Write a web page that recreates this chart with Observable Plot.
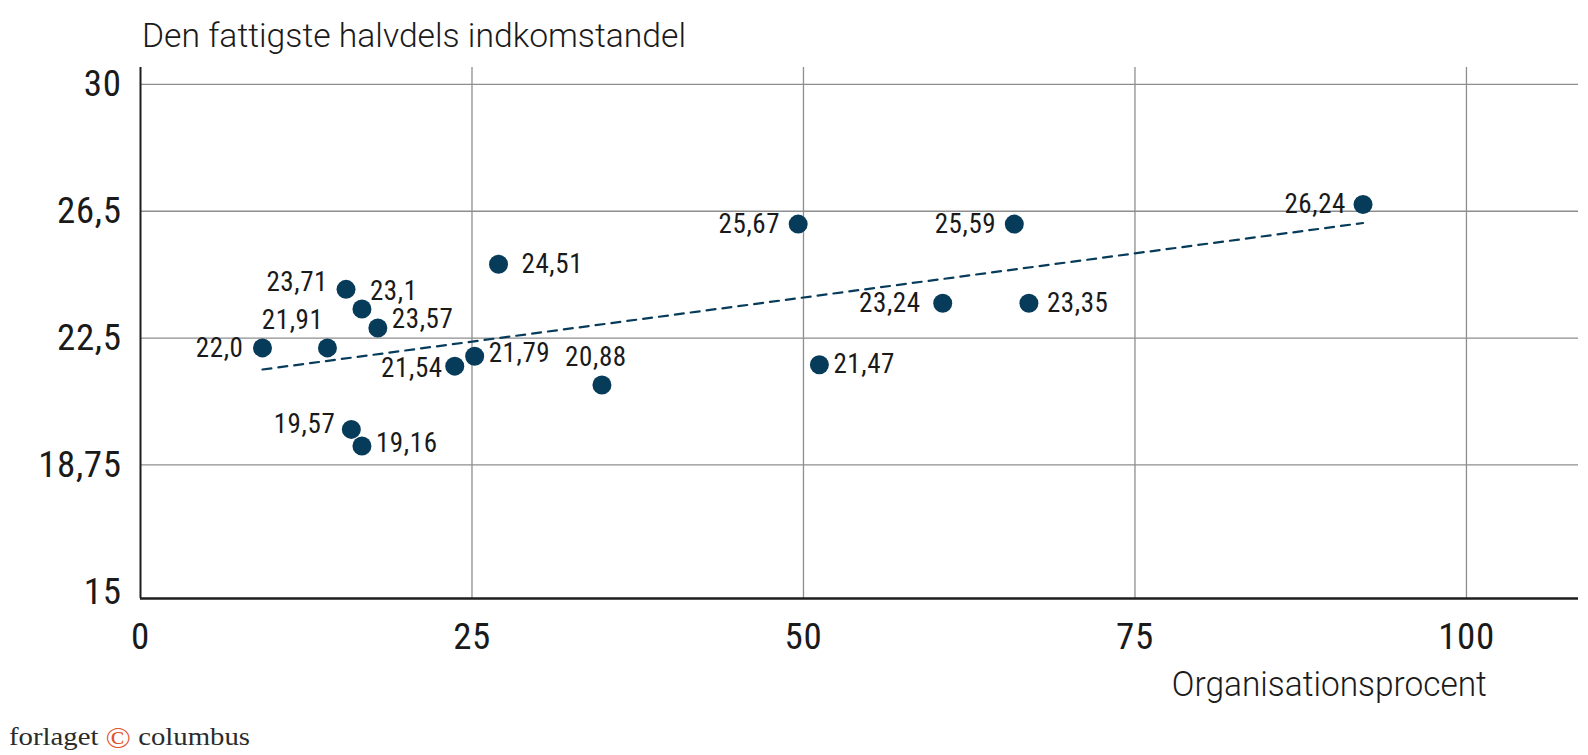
<!DOCTYPE html>
<html>
<head>
<meta charset="utf-8">
<script src="https://cdn.jsdelivr.net/npm/d3@7"></script>
<script src="https://cdn.jsdelivr.net/npm/@observablehq/plot@0.6"></script>
<style>
  html, body { margin: 0; padding: 0; background: #fff; }
  #wrap { position: relative; width: 1588px; height: 755px; overflow: hidden; }
  #chart { position: absolute; left: 0; top: 0; }
  #chart svg text { letter-spacing: 0.6px; }
  .title { position: absolute; left: 142px; top: 18px; font-family: Roboto, sans-serif; font-weight: 300;
           font-size: 34px; line-height: 34px; color: #1a1a1a; white-space: nowrap; transform-origin: 0 0; }
  .xlabel { position: absolute; right: 101px; top: 667px; font-family: Roboto, sans-serif; font-weight: 300;
           font-size: 35px; line-height: 35px; color: #1a1a1a; white-space: nowrap; transform-origin: 100% 0; }
  .footer { position: absolute; left: 9px; top: 723px; font-family: "Liberation Serif", serif; font-size: 25px;
           line-height: 25px; color: #2b2b2b; white-space: nowrap; transform-origin: 0 0; }
  .footer .c { color: #e0552d; font-size: 29px; position: relative; top: 3px; }
</style>
</head>
<body>
<div id="wrap">
  <div id="chart"></div>
  <div class="title" id="title">Den fattigste halvdels indkomstandel</div>
  <div class="xlabel" id="xlabel">Organisationsprocent</div>
  <div class="footer" id="footer">forlaget <span class="c">©</span> columbus</div>
</div>
<script>
// ---- data ----
const orgPct      = [9.2, 14.1, 15.5, 16.7, 17.9, 15.9, 16.7, 23.7, 25.2, 27.0, 34.8, 49.6, 51.2, 65.9, 60.5, 67.0, 92.2];
const incomeShare = [22.21, 22.21, 23.94, 23.36, 22.80, 19.80, 19.31, 21.67, 21.96, 24.68, 21.11, 25.87, 21.71, 25.87, 23.53, 23.53, 26.45];
const pointLabels = ["22,0","21,91","23,71","23,1","23,57","19,57","19,16","21,54","21,79","24,51","20,88","25,67","21,47","25,59","23,24","23,35","26,24"];

const xTicks = [0, 25, 50, 75, 100];
const yTicks = [15, 18.75, 22.5, 26.25, 30];
const yTickLabels = ["15", "18,75", "22,5", "26,5", "30"];

// ---- label placement (anchor, dx, dy) per point ----
const labelPlacement = [
  ["end", -19, 0], ["end", -4, -28], ["end", -18, -7], ["start", 8, -18], ["start", 14, -9],
  ["end", -16, -5], ["start", 14, -3], ["end", -12, 2], ["start", 14, -3], ["start", 23, 0],
  ["middle", -6, -28], ["end", -18, 0], ["start", 14, 0], ["end", -18, 0], ["end", -22, 0],
  ["start", 18, 0], ["end", -17, 0]
];

const data = orgPct.map((x, i) => ({x, y: incomeShare[i], label: pointLabels[i], i}));

const navy = "#073b5a";
const gridColor = "#8e8e8e";
const axisColor = "#1e1e1e";
const font = '"Roboto Condensed", "Liberation Sans Narrow", "Arial Narrow", "DejaVu Sans Condensed", sans-serif';
const yDomain = [14.8, 30.5];

const labelMarks = data.map(d => {
  const [anchor, dx, dy] = labelPlacement[d.i];
  return Plot.text([d], {x: "x", y: "y", text: "label", textAnchor: anchor, dx, dy,
    fontSize: 27, fill: "#1a1a1a"});
});

const chart = Plot.plot({
  width: 1588, height: 680,
  marginTop: 67, marginBottom: 82, marginLeft: 140, marginRight: 10,
  x: {domain: [0, 108.45]},
  y: {domain: yDomain},
  style: {fontFamily: font, background: "transparent", color: "#1a1a1a"},
  marks: [
    Plot.gridX(xTicks.slice(1), {stroke: gridColor, strokeOpacity: 1, strokeWidth: 1.3}),
    Plot.gridY(yTicks.slice(1), {stroke: gridColor, strokeOpacity: 1, strokeWidth: 1.3}),
    Plot.ruleX([0], {stroke: axisColor, strokeWidth: 2}),
    Plot.ruleY([yDomain[0]], {stroke: axisColor, strokeWidth: 2.7}),
    Plot.axisY(yTicks, {tickSize: 0, tickPadding: 19, fontSize: 37, label: null,
      tickFormat: d => yTickLabels[yTicks.indexOf(d)]}),
    Plot.axisX(xTicks, {tickSize: 0, tickPadding: 24, fontSize: 37, label: null}),
    Plot.linearRegressionY(data, {x: "x", y: "y", ci: 0, stroke: navy, strokeWidth: 2.2, strokeDasharray: "9,7"}),
    Plot.dot(data, {x: "x", y: "y", r: 9.5, fill: navy}),
    ...labelMarks
  ]
});
document.getElementById("chart").appendChild(chart);

function fitWidth(id, target) {
  const el = document.getElementById(id);
  const w = el.getBoundingClientRect().width;
  if (w > 0) el.style.transform = `scaleX(${target / w})`;
}
fitWidth("title", 544);
fitWidth("xlabel", 315);
fitWidth("footer", 241);
</script>
</body>
</html>
